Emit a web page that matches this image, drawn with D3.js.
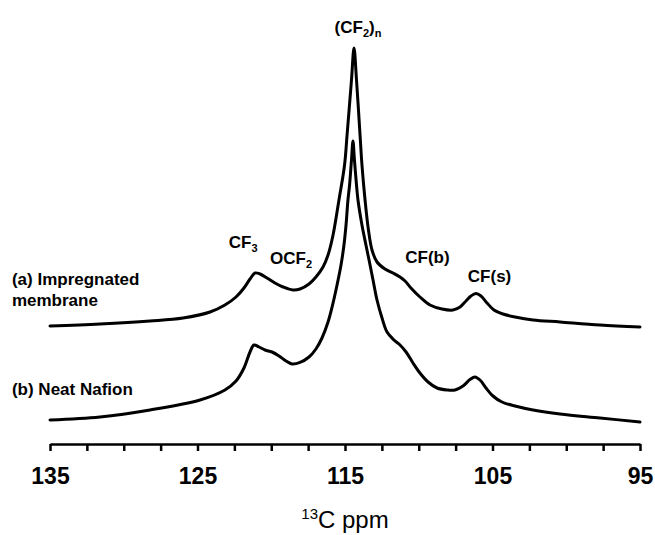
<!DOCTYPE html>
<html>
<head>
<meta charset="utf-8">
<script src="https://cdn.jsdelivr.net/npm/d3@7/dist/d3.min.js"></script>
<style>
  html, body { margin: 0; padding: 0; background: #fff; }
  svg { display: block; }
  text { font-family: "Liberation Sans", Arial, sans-serif; fill: #000; }
</style>
</head>
<body>
<svg id="chart" width="655" height="535"></svg>
<script>
// ---- data (ppm, intensity in arbitrary units) ----
const ppmDomain = [135, 95];
const majorTicks = [135, 125, 115, 105, 95];
const minorStep = 2.5;

const impregnatedPpm = [135.00,131.61,128.22,125.98,124.15,123.14,122.39,121.85,121.44,121.10,120.76,120.29,119.75,119.20,118.53,118.05,117.44,116.97,116.49,116.15,115.81,115.41,115.03,114.86,114.56,114.39,114.22,113.98,113.85,113.64,113.41,113.17,112.83,112.29,111.75,111.27,110.93,110.53,109.92,109.24,108.42,107.68,107.20,106.80,106.46,106.12,105.78,105.37,104.90,104.29,103.47,102.25,100.42,97.71,95.00];
const impregnatedInt = [26.0,26.5,27.25,28.0,29.5,31.25,33.25,35.5,37.75,39.25,39.0,38.0,36.75,35.75,35.0,35.25,36.5,38.25,40.75,43.75,48.75,57.5,66.25,73.75,87.5,95.5,87.5,73.75,66.25,57.5,50.0,45.0,42.0,40.25,39.25,38.25,37.25,35.5,33.25,31.25,30.25,30.0,30.75,32.25,33.5,34.1,33.5,31.75,30.0,29.0,28.25,27.5,27.0,26.25,25.75];

const neatPpm = [135.00,131.61,128.22,124.83,123.14,122.39,121.85,121.44,121.17,120.83,120.42,119.95,119.47,119.00,118.59,118.05,117.44,116.97,116.56,116.15,115.81,115.54,115.27,115.07,114.93,114.80,114.69,114.56,114.46,114.36,114.22,114.12,113.85,113.58,113.37,113.10,112.83,112.49,112.15,111.68,111.27,110.86,110.39,109.92,109.37,108.76,108.08,107.54,107.00,106.53,106.19,105.85,105.44,104.97,104.36,103.47,102.25,100.42,97.71,95.00];
const neatInt = [2.5,3.25,5.0,7.5,10.0,12.25,15.5,19.5,21.25,20.75,20.0,19.5,18.5,17.25,16.5,16.9,18.25,20.25,23.0,27.0,31.75,36.25,41.25,46.25,51.25,57.5,61.25,67.5,72.25,67.5,61.25,57.5,51.25,46.25,42.5,37.5,32.5,28.0,24.5,22.5,21.25,19.5,16.75,14.25,12.0,10.5,10.0,10.0,11.0,12.6,13.25,12.5,10.5,8.5,7.0,6.0,5.0,4.0,3.0,2.0];

const peakLabels = [
  {main: "(CF", sub: "2", tail: ")", sub2: "n", ppm: 114.12, val: 99.25},
  {main: "CF", sub: "3", ppm: 121.9, val: 45.5},
  {main: "OCF", sub: "2", ppm: 118.66, val: 41.5},
  {main: "CF(b)", ppm: 109.41, val: 41.75},
  {main: "CF(s)", ppm: 105.2, val: 37.0}
];
const seriesLabels = [
  {lines: ["(a) Impregnated", "membrane"], ppm: 137.58, val: 36.25},
  {lines: ["(b) Neat Nafion"], ppm: 137.58, val: 8.75}
];
const axisTitle = {sup: "13", main: "C ppm"};

// ---- layout ----
const svg = d3.select("#chart");
const x = d3.scaleLinear().domain(ppmDomain).range([50, 640]);
const y = d3.scaleLinear().domain([0, 100]).range([430, 30]);
const axisY = 444;

const line = d3.line()
  .x(d => x(d[0]))
  .y(d => y(d[1]))
  .curve(d3.curveCatmullRom.alpha(0.5));

const seriesA = impregnatedPpm.map((p, i) => [p, impregnatedInt[i]]);
const seriesB = neatPpm.map((p, i) => [p, neatInt[i]]);

[seriesA, seriesB].forEach(s => {
  svg.append("path")
    .datum(s)
    .attr("d", line)
    .attr("fill", "none")
    .attr("stroke", "#000")
    .attr("stroke-width", 3)
    .attr("stroke-linejoin", "round")
    .attr("stroke-linecap", "round");
});

// ---- axis ----
const allTicks = d3.range(135, 94.9, -minorStep);
const axis = d3.axisBottom(x)
  .tickValues(allTicks)
  .tickSize(7)
  .tickSizeOuter(0)
  .tickPadding(17)
  .tickFormat(d => majorTicks.includes(d) ? d3.format("d")(d) : "");

const gAxis = svg.append("g")
  .attr("transform", `translate(0,${axisY})`)
  .call(axis);
gAxis.select(".domain").attr("stroke", "#000").attr("stroke-width", 2.5);
gAxis.selectAll(".tick line").attr("stroke", "#000").attr("stroke-width", 2.5);
gAxis.selectAll(".tick text")
  .style("font-family", '"Liberation Sans", Arial, sans-serif')
  .style("font-size", "23px")
  .style("font-weight", "bold")
  .attr("fill", "#000");

// axis title
const title = svg.append("text")
  .attr("x", 345)
  .attr("y", 528)
  .attr("text-anchor", "middle")
  .style("font-size", "24px");
title.append("tspan").text(axisTitle.sup).style("font-size", "15px").attr("dy", "-9");
title.append("tspan").text(axisTitle.main).attr("dy", "9");

// ---- peak labels ----
peakLabels.forEach(l => {
  const t = svg.append("text")
    .attr("x", x(l.ppm))
    .attr("y", y(l.val))
    .attr("text-anchor", "middle")
    .style("font-size", "17px")
    .style("font-weight", "bold");
  t.append("tspan").text(l.main);
  if (l.sub) t.append("tspan").text(l.sub).style("font-size", "11px").attr("dy", "4");
  if (l.tail) t.append("tspan").text(l.tail).attr("dy", "-4");
  if (l.sub2) t.append("tspan").text(l.sub2).style("font-size", "11px").attr("dy", "4");
});

// ---- series labels ----
seriesLabels.forEach(l => {
  const t = svg.append("text")
    .attr("x", x(l.ppm))
    .attr("y", y(l.val))
    .style("font-size", "17px")
    .style("font-weight", "bold");
  l.lines.forEach((ln, i) => {
    t.append("tspan").attr("x", x(l.ppm)).attr("dy", i === 0 ? 0 : 21).text(ln);
  });
});
</script>
</body>
</html>
